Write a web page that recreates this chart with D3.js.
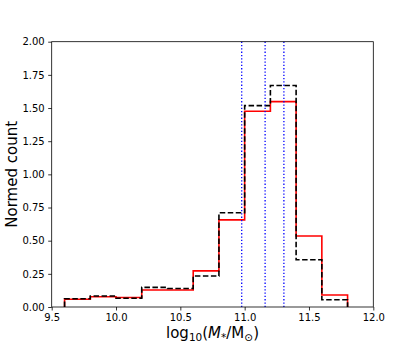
<!DOCTYPE html>
<html>
<head>
<meta charset="utf-8">
<script src="https://cdn.jsdelivr.net/npm/d3@7"></script>
<style>
  body { margin: 0; background: #fff; }
  svg { display: block; font-family: "DejaVu Sans", sans-serif; }
</style>
</head>
<body>
<svg width="415" height="346"></svg>
<script>
// histogram bin edges (log10 stellar mass)
const binEdges = [9.6, 9.8, 10.0, 10.2, 10.4, 10.6, 10.8, 11.0, 11.2, 11.4, 11.6, 11.8];
// red solid histogram
const redCounts = [0.058, 0.077, 0.072, 0.128, 0.128, 0.272, 0.657, 1.476, 1.548, 0.535, 0.09];
// black dashed histogram
const blackCounts = [0.062, 0.083, 0.066, 0.148, 0.140, 0.234, 0.710, 1.518, 1.670, 0.356, 0.055];
// blue vertical markers
const markerLines = [10.977, 11.159, 11.305];
const xTicks = [9.5, 10.0, 10.5, 11.0, 11.5, 12.0];
const yTicks = [0, 0.25, 0.5, 0.75, 1.0, 1.25, 1.5, 1.75, 2.0];

const svg = d3.select("svg");
const plotLeft = 51.7, plotRight = 373.3, plotTop = 41.7, plotBottom = 307;

const x = d3.scaleLinear().domain([9.5, 12.0]).range([plotLeft, plotRight]);
const y = d3.scaleLinear().domain([0, 2.0]).range([plotBottom, plotTop]);

// step outline like matplotlib histtype='step'
function stepPoints(counts) {
    const pts = [[binEdges[0], 0]];
    counts.forEach((v, i) => {
        pts.push([binEdges[i], v]);
        pts.push([binEdges[i + 1], v]);
    });
    pts.push([binEdges[binEdges.length - 1], 0]);
    return pts;
}

const line = d3.line().x(d => x(d[0])).y(d => y(d[1]));

svg.append("path")
    .attr("d", line(stepPoints(redCounts)))
    .attr("fill", "none")
    .attr("stroke", "#ff0000")
    .attr("stroke-width", 1.6);

svg.append("path")
    .attr("d", line(stepPoints(blackCounts)))
    .attr("fill", "none")
    .attr("stroke", "#000")
    .attr("stroke-width", 1.6)
    .attr("stroke-dasharray", "5.5,2.5");

svg.append("g")
    .selectAll("line")
    .data(markerLines)
    .join("line")
    .attr("x1", d => x(d))
    .attr("x2", d => x(d))
    .attr("y1", y(0))
    .attr("y2", y(2))
    .attr("stroke", "#0000ff")
    .attr("stroke-width", 1.3)
    .attr("stroke-dasharray", "1.3,2");

// axes
const xAxis = svg.append("g")
    .attr("transform", `translate(0,${plotBottom})`)
    .call(d3.axisBottom(x).tickValues(xTicks).tickFormat(d3.format(".1f")).tickSizeOuter(0).tickSize(3.5).tickPadding(3.5));
const yAxis = svg.append("g")
    .attr("transform", `translate(${plotLeft},0)`)
    .call(d3.axisLeft(y).tickValues(yTicks).tickFormat(d3.format(".2f")).tickSizeOuter(0).tickSize(3.5).tickPadding(3.5));

[xAxis, yAxis].forEach(a => {
    a.select(".domain").remove();
    a.selectAll("line").attr("stroke", "#000").attr("stroke-width", 0.8);
    a.selectAll("text").attr("fill", "#000").style("font-size", "10px").style("font-family", "DejaVu Sans");
});

// frame
svg.append("rect")
    .attr("x", plotLeft).attr("y", plotTop)
    .attr("width", plotRight - plotLeft).attr("height", plotBottom - plotTop)
    .attr("fill", "none")
    .attr("stroke", "#000")
    .attr("stroke-width", 0.8);

// axis labels
svg.append("text")
    .attr("transform", `translate(17,${(plotTop + plotBottom) / 2}) rotate(-90)`)
    .attr("text-anchor", "middle")
    .style("font-size", "15px")
    .text("Normed count");

const xl = svg.append("text")
    .attr("x", (plotLeft + plotRight) / 2)
    .attr("y", 338)
    .attr("text-anchor", "middle")
    .style("font-size", "15px");
xl.append("tspan").text("log");
xl.append("tspan").attr("dy", 3).style("font-size", "10.5px").text("10");
xl.append("tspan").attr("dy", -3).text("(");
xl.append("tspan").style("font-style", "italic").text("M");
xl.append("tspan").attr("dy", 3).style("font-size", "10.5px").text("*");
xl.append("tspan").attr("dy", -3).text("/M");
xl.append("tspan").attr("dy", 3).style("font-size", "10.5px").text("\u2299");
xl.append("tspan").attr("dy", -3).text(")");
</script>
</body>
</html>
